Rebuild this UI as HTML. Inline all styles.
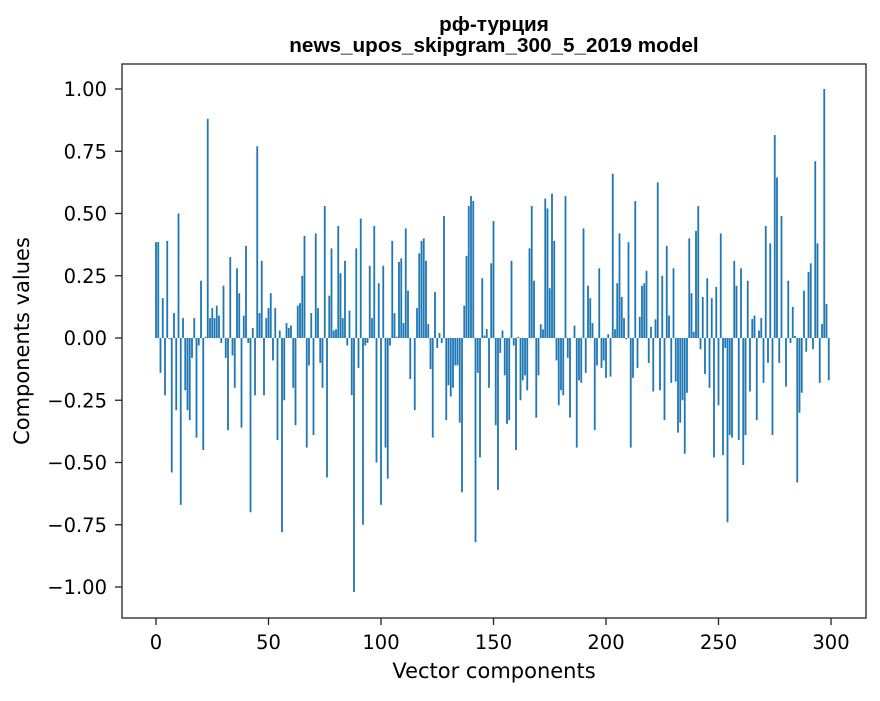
<!DOCTYPE html>
<html><head><meta charset="utf-8"><style>
body{margin:0;background:#fff}
svg text{font-family:"DejaVu Sans","Liberation Sans",sans-serif;fill:#000}
svg text.ttl{font-family:"Liberation Sans","DejaVu Sans",sans-serif;font-weight:bold}
</style></head><body>
<svg id="chart" width="880" height="696" viewBox="0 0 880 696" xmlns="http://www.w3.org/2000/svg">
<rect width="880" height="696" fill="#fff"/>
<text class="ttl" x="494" y="31" text-anchor="middle" font-size="20.7">рф-турция</text>
<text class="ttl" x="494" y="52" text-anchor="middle" font-size="20.7">news_upos_skipgram_300_5_2019 model</text>
<g id="bars"></g>
<g id="axes"></g>
<rect x="122" y="64" width="744" height="554" fill="none" stroke="#222" stroke-width="1.3"/>
<text x="494" y="678" text-anchor="middle" font-size="21">Vector components</text>
<text transform="translate(29,341) rotate(-90)" text-anchor="middle" font-size="21">Components values</text>
</svg>
<script>
const values = [
0.385,0.385,-0.14,0.16,-0.23,0.39,-0.005,-0.54,0.10,-0.29,
0.50,-0.67,0.08,-0.21,-0.29,-0.33,-0.08,0.08,-0.40,-0.03,
0.23,-0.45,0.005,0.88,0.08,0.12,0.08,0.13,0.09,-0.02,
0.21,-0.08,-0.37,0.325,-0.07,-0.20,0.28,0.18,-0.36,0.09,
0.37,-0.02,-0.70,0.04,-0.23,0.77,0.10,0.31,-0.23,0.08,
0.12,0.18,-0.09,0.12,-0.41,0.03,-0.78,-0.25,0.06,0.04,
0.05,-0.20,-0.35,0.13,0.14,0.25,0.41,-0.44,-0.11,0.10,
-0.39,0.42,0.12,-0.10,-0.20,
0.53,-0.56,0.17,0.36,0.03,0.035,0.45,0.26,0.08,0.31,
-0.03,0.11,-0.23,-1.02,0.36,-0.12,0.48,-0.75,-0.03,-0.02,
0.29,0.08,0.45,-0.50,0.22,-0.67,0.29,-0.44,-0.565,-0.03,
0.39,0.10,0.005,0.305,0.32,0.06,0.44,0.19,-0.165,0,
-0.29,0.12,0.34,0.39,0.40,0.31,0.056,-0.125,-0.40,0.185,
-0.04,0.02,-0.02,0.49,-0.33,-0.19,-0.235,-0.20,-0.11,-0.11,
-0.34,-0.62,0.13,0.33,0.53,0.57,0.55,-0.82,-0.14,-0.48,
0.24,0.01,0.036,-0.20,0.30,0.47,
-0.35,-0.61,-0.06,0.03,-0.15,-0.345,-0.33,0.31,-0.03,-0.45,
0.005,-0.25,-0.17,-0.15,-0.21,0.36,0.53,0.23,-0.32,-0.15,
0.055,0.035,0.56,0.52,0.20,0.58,0.39,-0.09,-0.27,-0.21,
-0.23,0.57,-0.08,-0.32,0,0.05,-0.44,-0.17,-0.18,0.44,
-0.14,0.21,0.16,0.06,-0.37,-0.11,0.28,-0.12,-0.09,-0.16,
0.015,-0.155,0.66,0.035,0.22,0.42,0.165,0.08,-0.005,0.385,
-0.44,-0.16,0.55,-0.12,0.085,0.21,0.22,0.27,-0.10,0.045,
-0.215,0.075,0.625,-0.21,
0.25,-0.33,0.37,0.09,-0.18,0.28,-0.175,-0.38,-0.34,-0.25,
-0.465,-0.22,0.40,0.18,0.025,0.43,0.53,-0.045,0.165,-0.145,
0.24,-0.20,0.16,-0.48,0.205,-0.27,0.42,-0.47,-0.04,-0.74,
-0.39,-0.40,0.31,0.21,-0.41,0.28,-0.51,-0.39,0.23,-0.215,
0.076,0.09,-0.33,0.03,0.08,-0.18,0.45,-0.10,0.38,-0.39,
0.815,0.645,-0.10,0.49,0,-0.195,0.23,-0.02,0.125,0.008,
-0.58,-0.30,-0.22,0.19,-0.055,0.265,0.30,-0.045,0.71,0.38,
-0.18,0.056,1.00,0.137,-0.17
];
const xTicks = [0,50,100,150,200,250,300];
const yTicks = [-1.00,-0.75,-0.50,-0.25,0.00,0.25,0.50,0.75,1.00];

const NS = "http://www.w3.org/2000/svg";
function xs(v){return 156 + v*2.25;}
function ys(v){return 338 - v*249;}
const bars = document.getElementById('bars');
values.forEach(function(v,i){
  const r = document.createElementNS(NS,'rect');
  const y0 = ys(0), y1 = ys(v);
  r.setAttribute('x', xs(i-0.4));
  r.setAttribute('width', 0.8*2.25);
  r.setAttribute('y', Math.min(y0,y1));
  r.setAttribute('height', Math.abs(y1-y0));
  r.setAttribute('fill', '#1f77b4');
  
  
  bars.appendChild(r);
});
const axes = document.getElementById('axes');
xTicks.forEach(function(t){
  const l = document.createElementNS(NS,'line');
  l.setAttribute('x1', xs(t)); l.setAttribute('x2', xs(t));
  l.setAttribute('y1', 618); l.setAttribute('y2', 625);
  l.setAttribute('stroke', '#222'); l.setAttribute('stroke-width', '1.3');
  
  
  axes.appendChild(l);
  const tx = document.createElementNS(NS,'text');
  tx.setAttribute('x', xs(t)); tx.setAttribute('y', 649);
  tx.setAttribute('text-anchor', 'middle'); tx.setAttribute('font-size', '19.5');
  tx.textContent = String(t);
  
  
  axes.appendChild(tx);
});
yTicks.forEach(function(t){
  const l = document.createElementNS(NS,'line');
  l.setAttribute('x1', 115); l.setAttribute('x2', 122);
  l.setAttribute('y1', ys(t)); l.setAttribute('y2', ys(t));
  l.setAttribute('stroke', '#222'); l.setAttribute('stroke-width', '1.3');
  
  
  axes.appendChild(l);
  const tx = document.createElementNS(NS,'text');
  tx.setAttribute('x', 107); tx.setAttribute('y', ys(t)+7);
  tx.setAttribute('text-anchor', 'end'); tx.setAttribute('font-size', '19.5');
  tx.textContent = (t<0?'\u2212':'') + Math.abs(t).toFixed(2);
  
  
  axes.appendChild(tx);
});
</script>
</body></html>
